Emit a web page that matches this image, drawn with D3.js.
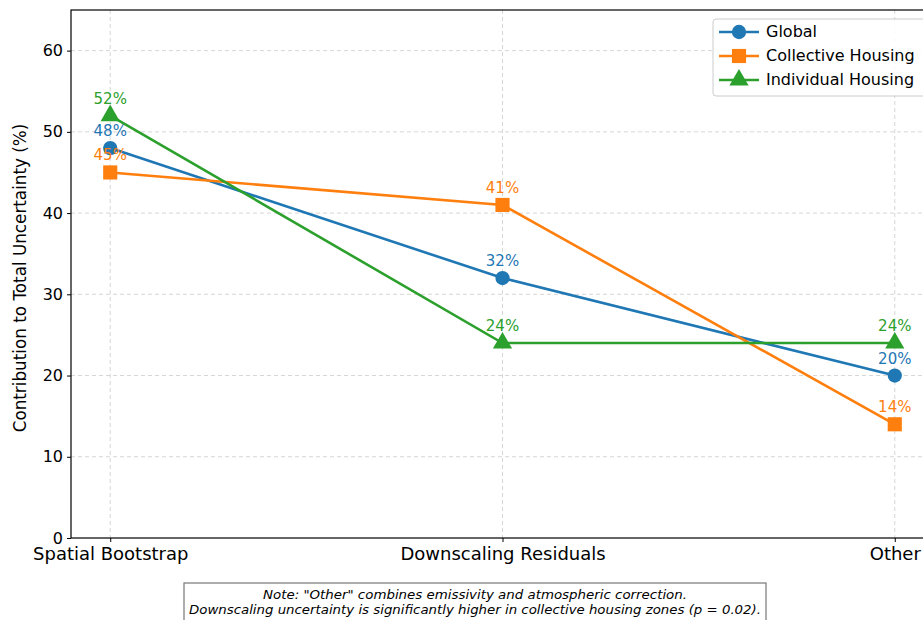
<!DOCTYPE html>
<html><head><meta charset="utf-8">
<script src="https://cdn.jsdelivr.net/npm/d3@7"></script>
<style>body{margin:0;background:#fff;} svg{display:block;}</style>
</head><body>
<svg id="c" width="923" height="620"></svg>
<script>
const categories = ["Spatial Bootstrap", "Downscaling Residuals", "Other"];
const globalVals = [48, 32, 20];
const collectiveVals = [45, 41, 14];
const individualVals = [52, 24, 24];
const seriesNames = ["Global", "Collective Housing", "Individual Housing"];
const yTicks = [0, 10, 20, 30, 40, 50, 60];
const noteLines = ["Note: \"Other\" combines emissivity and atmospheric correction.",
  "Downscaling uncertainty is significantly higher in collective housing zones (p = 0.02)."];

const colors = ["#1f77b4", "#ff7f0e", "#2ca02c"];
const shapes = [d3.symbolCircle, d3.symbolSquare, d3.symbolTriangle];
const sizes = [160, 200, 160];
const series = [globalVals, collectiveVals, individualVals];

const svg = d3.select("#c");
const L = 71, T = 10, B = 538, R = 934;
const x = d3.scaleLinear().domain([-0.1, 2.1]).range([L, R]);
const y = d3.scaleLinear().domain([0, 65]).range([B, T]);
const font = "DejaVu Sans, sans-serif";

const g = svg.append("g");
// grid
g.selectAll(".gy").data(yTicks.slice(1)).join("line")
  .attr("x1", L).attr("x2", R).attr("y1", d => y(d)).attr("y2", d => y(d))
  .attr("stroke", "#cccccc").attr("stroke-width", 0.8).attr("stroke-dasharray", "4,3");
g.selectAll(".gx").data(categories).join("line")
  .attr("x1", (d, i) => x(i)).attr("x2", (d, i) => x(i)).attr("y1", T).attr("y2", B)
  .attr("stroke", "#cccccc").attr("stroke-width", 0.8).attr("stroke-dasharray", "4,3");

// axes
const yAxis = d3.axisLeft(y).tickValues(yTicks).tickSize(4).tickPadding(4);
const ya = svg.append("g").attr("transform", `translate(${L},0)`).call(yAxis);
ya.select(".domain").remove();
ya.selectAll("text").attr("font-family", font).attr("font-size", 16).attr("fill", "#000");
ya.selectAll("line").attr("stroke", "#000");

const xAxis = d3.axisBottom(x).tickValues([0, 1, 2]).tickFormat(i => categories[i]).tickSize(4).tickPadding(5);
const xa = svg.append("g").attr("transform", `translate(0,${B})`).call(xAxis);
xa.select(".domain").remove();
xa.selectAll("text").attr("font-family", font).attr("font-size", 18).attr("fill", "#000");
xa.selectAll("line").attr("stroke", "#000");

// frame
svg.append("rect").attr("x", L).attr("y", T).attr("width", R - L).attr("height", B - T)
  .attr("fill", "none").attr("stroke", "#000").attr("stroke-width", 1.2);

// y label
svg.append("text").attr("transform", `translate(26,${(T + B) / 2 + 4}) rotate(-90)`)
  .attr("text-anchor", "middle").attr("font-family", font).attr("font-size", 16.8)
  .text("Contribution to Total Uncertainty (%)");

// lines and markers
const line = d3.line().x((d, i) => x(i)).y(d => y(d));
series.forEach((vals, s) => {
  svg.append("path").datum(vals).attr("d", line).attr("fill", "none")
    .attr("stroke", colors[s]).attr("stroke-width", 2.6);
  svg.selectAll(".m" + s).data(vals).join("path")
    .attr("transform", (d, i) => `translate(${x(i)},${y(d)})`)
    .attr("d", d3.symbol().type(shapes[s]).size(sizes[s]))
    .attr("fill", colors[s]);
});
series.forEach((vals, s) => {
  svg.selectAll(".t" + s).data(vals).join("text")
    .attr("x", (d, i) => x(i)).attr("y", d => y(d) - 12)
    .attr("text-anchor", "middle").attr("font-family", font).attr("font-size", 15)
    .attr("fill", colors[s]).text(d => d + "%");
});

// legend
const lg = svg.append("g").attr("transform", "translate(713,19)");
lg.append("rect").attr("width", 230).attr("height", 77).attr("rx", 3)
  .attr("fill", "#fff").attr("fill-opacity", 0.85).attr("stroke", "#cccccc");
seriesNames.forEach((n, s) => {
  const yy = 13 + s * 24;
  lg.append("line").attr("x1", 6).attr("x2", 46).attr("y1", yy).attr("y2", yy)
    .attr("stroke", colors[s]).attr("stroke-width", 2.6);
  lg.append("path").attr("transform", `translate(26,${yy})`)
    .attr("d", d3.symbol().type(shapes[s]).size(sizes[s])).attr("fill", colors[s]);
  lg.append("text").attr("x", 53).attr("y", yy + 5).attr("font-family", font)
    .attr("font-size", 16).text(n);
});

// note box
const nb = svg.append("g");
nb.append("rect").attr("x", 184).attr("y", 583).attr("width", 582).attr("height", 40)
  .attr("fill", "#fff").attr("stroke", "#777").attr("stroke-width", 1.2);
noteLines.forEach((t, i) => {
  nb.append("text").attr("x", 475).attr("y", 599 + i * 15).attr("text-anchor", "middle")
    .attr("font-family", font).attr("font-size", 13).attr("font-style", "italic")
    .attr("textLength", i === 0 ? 424 : 572).attr("lengthAdjust", "spacingAndGlyphs").text(t);
});
</script>
</body></html>
